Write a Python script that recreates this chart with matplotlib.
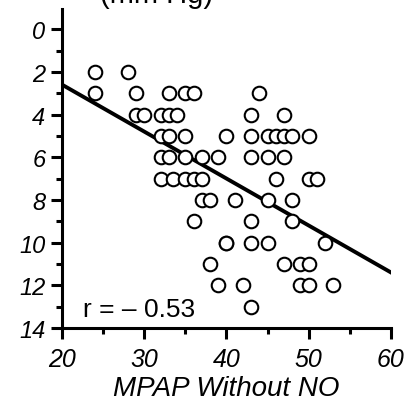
import matplotlib
matplotlib.use("Agg")
import matplotlib.pyplot as plt
from matplotlib.ticker import MultipleLocator

plt.rcParams['font.family'] = ['Liberation Sans', 'DejaVu Sans']

# MPAP without NO (x) vs change in MPAP (y)
mpap_x = [24, 28,
          24, 29, 33, 35, 36, 44,
          29, 30, 32, 33, 34, 43, 47,
          32, 33, 35, 40, 43, 45, 46, 47, 48, 50,
          32, 33, 35, 37, 39, 43, 45, 47,
          32, 33.5, 35, 36, 37, 46, 50, 51,
          37, 38, 41, 45, 48,
          36, 43, 48,
          40, 40, 43, 45, 52,
          38, 47, 49, 50,
          39, 42, 49, 50, 53,
          43]
delta_y = [2, 2,
           3, 3, 3, 3, 3, 3,
           4, 4, 4, 4, 4, 4, 4,
           5, 5, 5, 5, 5, 5, 5, 5, 5, 5,
           6, 6, 6, 6, 6, 6, 6, 6,
           7, 7, 7, 7, 7, 7, 7, 7,
           8, 8, 8, 8, 8,
           9, 9, 9,
           10, 10, 10, 10, 10,
           11, 11, 11, 11,
           12, 12, 12, 12, 12,
           13]

fit_x = [20, 60]
fit_y = [2.6, 11.4]

fig = plt.figure(figsize=(4.11, 4.06), dpi=100)
ax = fig.add_axes([0.151, 0.19, 0.80, 0.785])

ax.scatter(mpap_x, delta_y, s=95, facecolors='white', edgecolors='black',
           linewidths=1.5, zorder=3)
ax.plot(fit_x, fit_y, color='black', linewidth=2.8, zorder=2)

ax.set_xlim(20, 60)
ax.set_ylim(14, -0.94)

ax.spines['top'].set_visible(False)
ax.spines['right'].set_visible(False)
ax.spines['left'].set_linewidth(2.2)
ax.spines['bottom'].set_linewidth(2.2)

ax.xaxis.set_major_locator(MultipleLocator(10))
ax.xaxis.set_minor_locator(MultipleLocator(5))
ax.yaxis.set_major_locator(MultipleLocator(2))
ax.yaxis.set_minor_locator(MultipleLocator(1))
ax.set_yticks(range(0, 15, 2))

ax.tick_params(axis='both', which='major', direction='out', length=8, width=2.2)
ax.tick_params(axis='both', which='minor', direction='out', length=4, width=2.2)
ax.tick_params(axis='x', which='major', labelsize=18, pad=6)
ax.tick_params(axis='y', which='major', labelsize=17, pad=4)
for lab in ax.get_xticklabels() + ax.get_yticklabels():
    lab.set_fontstyle('italic')

ax.set_xlabel("MPAP Without NO", fontsize=20, fontstyle='italic', labelpad=3)
ax.text(22.5, 13.1, "r = \u2013 0.53", fontsize=19, va='center', ha='left')

fig.text(0.38, 0.992, "(mm Hg)", fontsize=21, ha='center', va='baseline')

fig.savefig("out.png", dpi=100)
